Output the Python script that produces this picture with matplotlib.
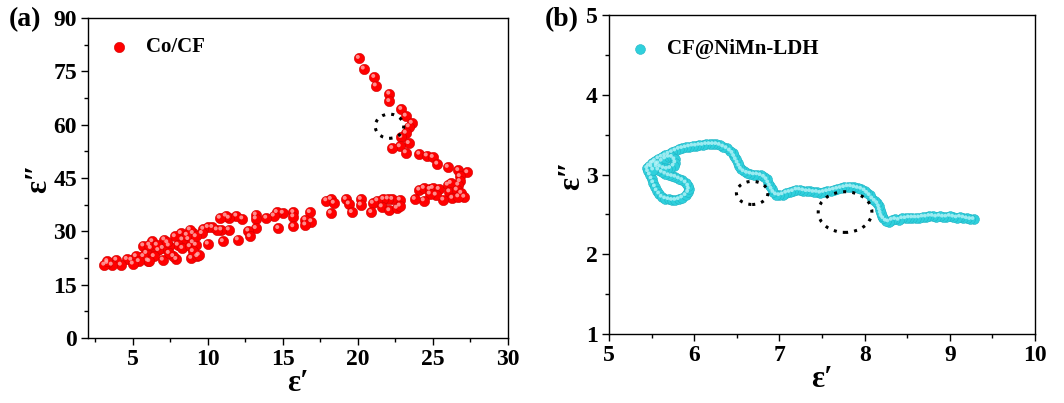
import numpy as np
import matplotlib.pyplot as plt
import matplotlib.transforms as mtransforms
from matplotlib.patches import Ellipse
from matplotlib.ticker import MultipleLocator

plt.rcParams['font.family'] = ['Liberation Serif', 'DejaVu Serif']
plt.rcParams['font.weight'] = 'bold'

# (a) Co/CF  -- eps' , eps''
co_x = [20.07, 20.4, 21.1, 21.2, 22.1, 22.1, 22.9, 23.2, 23.6, 23.4, 23.2, 22.9,
        23.4, 22.8, 22.3, 23.2, 24.1, 24.6, 25.0, 25.3, 26.0, 26.7, 27.3, 26.8,
        26.8, 26.7,
        24.1, 24.4, 24.8, 25.0, 25.4, 26.0, 26.2, 26.1, 26.6, 26.9, 27.1, 26.3,
        25.7, 25.2, 24.8, 24.4, 23.8, 26.7,
        22.8, 22.3, 22.0, 21.7, 21.3, 21.0, 21.6, 22.1, 22.6, 22.8, 20.9, 20.2,
        20.2, 19.2, 19.4, 19.6, 18.2, 17.9, 18.4, 18.2, 16.8, 16.9, 16.5, 16.5,
        15.7, 15.7, 15.7, 15.0, 14.6, 14.4, 14.7, 13.9, 13.2, 13.2, 13.2, 12.7,
        12.8, 12.3, 11.9, 12.0, 11.4, 11.2, 10.8, 11.4, 10.9, 11.0, 10.6, 10.3,
        10.0, 9.7, 9.6, 10.0, 9.0, 8.8, 8.2, 9.0, 8.7, 8.3, 7.8, 8.0,
        8.3, 8.8, 9.2, 8.9, 9.3, 7.9, 7.4, 7.1, 7.0, 6.7, 6.3, 6.2,
        5.7, 5.9, 6.4, 7.0, 6.0, 5.7, 5.2, 5.4, 6.1, 4.9, 4.6, 5.0,
        4.2, 3.9, 3.6, 3.3, 3.1, 3.3,
        7.7, 9.4, 7.4, 9.0, 6.1, 6.6, 7.3, 8.6, 9.2]
co_y = [78.75, 75.75, 73.4, 71.0, 68.7, 66.6, 64.4, 62.5, 60.5, 59.5, 57.7, 56.5,
        54.8, 53.9, 53.4, 52.2, 51.8, 51.3, 50.9, 49.0, 48.1, 47.2, 46.6, 45.5,
        44.1, 43.1,
        41.7, 42.2, 41.9, 42.2, 41.9, 43.1, 43.6, 41.2, 41.7, 40.8, 39.7, 39.4,
        38.9, 40.3, 40.6, 38.7, 39.1, 39.8,
        38.9, 39.1, 39.2, 39.1, 38.7, 38.0, 37.0, 35.9, 36.6, 37.2, 35.4, 39.1,
        37.5, 39.1, 37.8, 35.4, 39.1, 38.7, 38.0, 35.2, 35.4, 32.8, 33.3, 31.9,
        35.4, 34.2, 31.4, 35.2, 35.4, 34.4, 30.9, 33.8, 34.7, 33.6, 30.9, 30.2,
        28.6, 33.6, 34.4, 27.7, 33.8, 34.4, 33.8, 30.5, 30.5, 27.2, 30.5, 31.2,
        31.2, 30.7, 29.5, 26.5, 29.5, 30.5, 29.5, 26.9, 27.8, 27.7, 28.6, 26.2,
        25.3, 25.8, 26.2, 22.5, 23.0, 22.2, 26.0, 27.7, 25.3, 24.7, 27.2, 25.3,
        26.0, 23.9, 23.0, 22.0, 21.8, 23.0, 23.0, 21.6, 21.6, 22.0, 22.2, 20.9,
        20.6, 22.0, 20.6, 21.1, 20.6, 21.6,
        23.0, 23.4, 23.9, 24.4, 26.2, 26.2, 26.9, 29.0, 28.6]

# (b) CF@NiMn-LDH -- eps' , eps''
ldh_x = [9.28, 9.24, 9.20, 9.16, 9.12, 9.08, 9.04, 9.00, 8.96, 8.92, 8.88, 8.84,
         8.80, 8.76, 8.72, 8.68, 8.64, 8.60, 8.56, 8.52, 8.48, 8.44, 8.40, 8.36,
         8.32, 8.28, 8.25, 8.22, 8.20, 8.19, 8.18, 8.17, 8.15, 8.12, 8.09, 8.06,
         8.03, 8.00, 7.96, 7.92, 7.88, 7.84, 7.80, 7.76, 7.72, 7.68, 7.64, 7.60,
         7.56, 7.52, 7.48, 7.44, 7.40, 7.36, 7.32, 7.28, 7.24, 7.20, 7.16, 7.12,
         7.08, 7.04, 7.00, 6.96, 6.93, 6.91, 6.89, 6.87, 6.85, 6.82, 6.78, 6.74,
         6.70, 6.66, 6.62, 6.58, 6.55, 6.53, 6.51, 6.49, 6.47, 6.45, 6.42, 6.38,
         6.34, 6.30, 6.26, 6.22, 6.18, 6.14, 6.10, 6.06, 6.02, 5.98, 5.94, 5.90,
         5.86, 5.82, 5.78, 5.74, 5.70, 5.66, 5.62, 5.58, 5.54, 5.50, 5.47, 5.45,
         5.46, 5.48, 5.50, 5.52, 5.54, 5.56, 5.59, 5.62, 5.66, 5.70, 5.74, 5.78,
         5.82, 5.86, 5.90, 5.93, 5.94, 5.93, 5.90, 5.86, 5.82, 5.78, 5.74, 5.70,
         5.66, 5.62, 5.58, 5.56, 5.58, 5.62, 5.66, 5.70, 5.74, 5.77, 5.78, 5.76,
         5.72, 5.68, 5.64, 5.60, 5.56, 5.52, 5.50, 5.52]
ldh_y = [2.44, 2.44, 2.45, 2.46, 2.47, 2.46, 2.47, 2.48, 2.47, 2.47, 2.48, 2.47,
         2.48, 2.48, 2.47, 2.47, 2.46, 2.46, 2.46, 2.46, 2.45, 2.45, 2.43, 2.44,
         2.43, 2.41, 2.42, 2.45, 2.48, 2.52, 2.56, 2.60, 2.64, 2.67, 2.70, 2.74,
         2.77, 2.80, 2.82, 2.83, 2.84, 2.85, 2.85, 2.84, 2.83, 2.82, 2.81, 2.80,
         2.79, 2.78, 2.77, 2.78, 2.78, 2.79, 2.79, 2.80, 2.81, 2.81, 2.79, 2.78,
         2.77, 2.75, 2.74, 2.75, 2.78, 2.82, 2.86, 2.90, 2.94, 2.97, 2.99, 3.00,
         3.00, 3.01, 3.02, 3.04, 3.07, 3.11, 3.15, 3.19, 3.23, 3.27, 3.30, 3.33,
         3.35, 3.37, 3.38, 3.38, 3.38, 3.38, 3.37, 3.37, 3.36, 3.36, 3.35, 3.34,
         3.33, 3.32, 3.30, 3.28, 3.26, 3.24, 3.22, 3.20, 3.17, 3.14, 3.11, 3.08,
         3.04, 3.00, 2.95, 2.90, 2.85, 2.80, 2.76, 2.72, 2.70, 2.69, 2.68, 2.68,
         2.69, 2.71, 2.74, 2.78, 2.82, 2.86, 2.90, 2.93, 2.95, 2.97, 2.98, 2.99,
         3.01, 3.03, 3.06, 3.10, 3.14, 3.17, 3.20, 3.22, 3.22, 3.19, 3.15, 3.11,
         3.08, 3.07, 3.08, 3.10, 3.13, 3.15, 3.10, 3.06]

# dotted circles: (x, y, width, height)
circles_a = [(22.1, 59.6, 1.9, 6.8)]
circles_b = [(6.68, 2.77, 0.37, 0.29), (7.77, 2.53, 0.63, 0.51)]


def sphere_scatter(ax, x, y, size, color, edge, shine, label):
    """画带高光的小球"""
    ax.scatter(x, y, s=size, c=color, edgecolors=edge, linewidths=0.4,
               zorder=3, label=label)
    off = mtransforms.offset_copy(ax.transData, fig=ax.figure,
                                  x=-size ** 0.5 * 0.12, y=size ** 0.5 * 0.12,
                                  units='points')
    ax.scatter(x, y, s=size * 0.15, c=shine, edgecolors='none',
               alpha=0.8, zorder=4, transform=off)


def style_axis(ax):
    ax.tick_params(which='major', direction='out', length=5, width=1,
                   labelsize=17, pad=3, top=False, right=False)
    ax.tick_params(which='minor', direction='out', length=3, width=1,
                   top=False, right=False)
    for sp in ax.spines.values():
        sp.set_linewidth(1.0)
    for lab in ax.get_xticklabels() + ax.get_yticklabels():
        lab.set_fontweight('bold')
    ax.set_xlabel('ε′', fontsize=22, fontweight='bold', labelpad=-1)
    ax.set_ylabel('ε″', fontsize=22, fontweight='bold', labelpad=0)


fig = plt.figure(figsize=(10.64, 4.03), dpi=100)

# ---- (a)
ax1 = fig.add_axes([0.0827, 0.161, 0.3947, 0.794])
sphere_scatter(ax1, co_x, co_y, 55, '#ff0000', '#d00000', '#ffb0b0', 'Co/CF')
for cx, cy, w, h in circles_a:
    ax1.add_patch(Ellipse((cx, cy), w, h, fill=False, ls=(0, (1, 2)),
                          lw=2.2, ec='black', zorder=5))
ax1.set_xlim(2, 30)
ax1.set_ylim(0, 90)
ax1.xaxis.set_major_locator(MultipleLocator(5))
ax1.xaxis.set_minor_locator(MultipleLocator(2.5))
ax1.yaxis.set_major_locator(MultipleLocator(15))
ax1.yaxis.set_minor_locator(MultipleLocator(7.5))
style_axis(ax1)
ax1.legend(loc='upper left', frameon=False, handlelength=1.0,
           handletextpad=0.8, bbox_to_anchor=(0.0, 1.005), borderaxespad=0.6,
           prop={'weight': 'bold', 'size': 15})
fig.text(0.008, 0.935, '(a)', fontsize=20, fontweight='bold')

# ---- (b)
ax2 = fig.add_axes([0.5724, 0.171, 0.4004, 0.7916])
sphere_scatter(ax2, ldh_x, ldh_y, 50, '#2fd0dc', '#20b4c4', '#b8f4f8',
               'CF@NiMn-LDH')
for cx, cy, w, h in circles_b:
    ax2.add_patch(Ellipse((cx, cy), w, h, fill=False, ls=(0, (1, 2)),
                          lw=2.2, ec='black', zorder=5))
ax2.set_xlim(5, 10)
ax2.set_ylim(1, 5)
ax2.xaxis.set_major_locator(MultipleLocator(1))
ax2.xaxis.set_minor_locator(MultipleLocator(0.5))
ax2.yaxis.set_major_locator(MultipleLocator(1))
ax2.yaxis.set_minor_locator(MultipleLocator(0.5))
style_axis(ax2)
ax2.legend(loc='upper left', frameon=False, handlelength=1.0,
           handletextpad=0.8, bbox_to_anchor=(0.0, 0.99), borderaxespad=0.6,
           prop={'weight': 'bold', 'size': 15})
fig.text(0.512, 0.935, '(b)', fontsize=20, fontweight='bold')

plt.savefig('out.png', dpi=100)
